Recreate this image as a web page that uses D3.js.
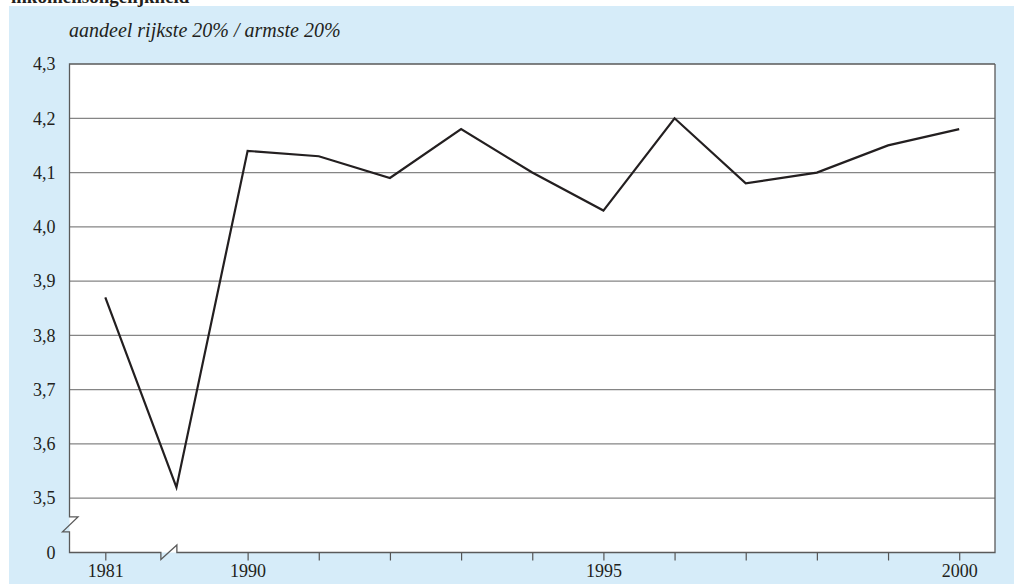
<!DOCTYPE html>
<html><head><meta charset="utf-8">
<script src="https://cdn.jsdelivr.net/npm/d3@7"></script>
<style>
html,body{margin:0;padding:0;background:#fff;}
svg{display:block;}
text{font-family:"Liberation Serif","DejaVu Serif",serif;fill:#231f20;}
</style></head>
<body>
<svg id="chart" width="1014" height="584"></svg>
<script>
// ---- data ----
const categories = ["1981","1985","1990","1991","1992","1993","1994","1995","1996","1997","1998","1999","2000"];
const values     = [3.87, 3.52, 4.14, 4.13, 4.09, 4.18, 4.10, 4.03, 4.20, 4.08, 4.10, 4.15, 4.18];
const xTickValues = ["1981","1990","1991","1992","1993","1994","1995","1996","1997","1998","1999","2000"];
const xTickLabels = ["1981","1990","1995","2000"];
const yTickValues = [3.4, 3.5, 3.6, 3.7, 3.8, 3.9, 4.0, 4.1, 4.2, 4.3];
const yTickLabels = ["0","3,5","3,6","3,7","3,8","3,9","4,0","4,1","4,2","4,3"];
const title = "inkomensongelijkheid";
const yTitle = "aandeel rijkste 20% / armste 20%";

// ---- layout ----
const svg = d3.select("#chart");
const L = 69.5, R = 995, T = 64, B = 552.5;

svg.append("rect").attr("x",9).attr("y",6).attr("width",1005).attr("height",578).attr("fill","#d6ecf9");
svg.append("text").attr("x",11).attr("y",3).attr("font-weight","bold").attr("font-size",19).text(title);
svg.append("text").attr("x",69).attr("y",37).attr("font-style","italic").attr("font-size",20).text(yTitle);

const x = d3.scalePoint().domain(categories).range([105.3, 959.2]);
const y = d3.scaleLinear().domain([3.4, 4.3]).range([B, T]);

// plot area
svg.append("rect").attr("x",L).attr("y",T).attr("width",R-L).attr("height",B-T).attr("fill","#fff");

// gridlines
svg.append("g").selectAll("line").data(yTickValues.filter(v => v > 3.45 && v < 4.25)).join("line")
  .attr("x1",L).attr("x2",R).attr("y1",d=>y(d)).attr("y2",d=>y(d))
  .attr("stroke","#858585").attr("stroke-width",1.3);

// y axis labels
const yAxis = d3.axisLeft(y).tickValues(yTickValues).tickSize(0).tickPadding(14)
  .tickFormat((d,i)=>yTickLabels[i]);
const gy = svg.append("g").attr("transform",`translate(${L},0)`).call(yAxis);
gy.select(".domain").remove();
gy.selectAll("text").attr("font-size",18).attr("fill","#231f20").style("font-family","Liberation Serif, serif");

// x axis ticks/labels
const xAxis = d3.axisBottom(x).tickValues(xTickValues).tickSize(8).tickPadding(4)
  .tickFormat(d => xTickLabels.includes(d) ? d : "");
const gx = svg.append("g").attr("transform",`translate(0,${B})`).call(xAxis);
gx.select(".domain").remove();
gx.selectAll("line").attr("stroke","#555").attr("stroke-width",1.2);
gx.selectAll("text").attr("font-size",18).attr("fill","#231f20").style("font-family","Liberation Serif, serif");

// frame with breaks
const yb1 = (y(3.5)+y(3.4))/2 - 8.5, yb2 = yb1 + 15;
const xb = (x("1981")+x("1985"))/2 + 28;
const frame = d3.path();
frame.moveTo(R, T); frame.lineTo(L, T); frame.lineTo(L, yb1);
frame.lineTo(L+8.5, yb1); frame.lineTo(L-7, yb2); frame.lineTo(L, yb2);
frame.lineTo(L, B); frame.lineTo(xb-8, B); frame.lineTo(xb-8, B+7);
frame.lineTo(xb+8, B-7.5); frame.lineTo(xb+8, B); frame.lineTo(R, B); frame.lineTo(R, T);
svg.append("path").attr("d",frame.toString()).attr("fill","none").attr("stroke","#5a5a5a").attr("stroke-width",1.3);

// data line
const line = d3.line().x((d,i)=>x(categories[i])).y(d=>y(d));
svg.append("path").datum(values).attr("d",line).attr("fill","none")
  .attr("stroke","#231f20").attr("stroke-width",2.2).attr("stroke-linejoin","miter");
</script>
</body></html>
